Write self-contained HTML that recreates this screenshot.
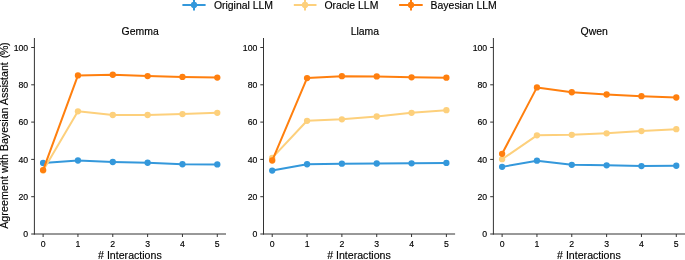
<!DOCTYPE html>
<html><head><meta charset="utf-8"><title>Agreement with Bayesian Assistant</title>
<style>
html,body{margin:0;padding:0;background:#fff;}
body{width:685px;height:260px;overflow:hidden;}
svg{display:block;will-change:transform;}
text{font-family:"Liberation Sans",sans-serif;fill:#000;stroke:#000;stroke-width:0.15px;}
.t{font-size:8.7px;}
.l{font-size:10.45px;}
</style></head><body>
<svg width="685" height="260" viewBox="0 0 685 260">
<rect width="685" height="260" fill="#fff"/>
<g stroke="#3498db" stroke-width="2.0" fill="#3498db"><line x1="182.4" y1="5" x2="205.6" y2="5"/><line x1="194.0" y1="-1" x2="194.0" y2="10.4"/><circle cx="194.0" cy="5" r="3.15" stroke="none"/></g>
<text class="l" x="213.9" y="8.75">Original LLM</text>
<g stroke="#fdd07c" stroke-width="2.0" fill="#fdd07c"><line x1="293.8" y1="5" x2="316.5" y2="5"/><line x1="305.0" y1="-1" x2="305.0" y2="10.4"/><circle cx="305.0" cy="5" r="3.15" stroke="none"/></g>
<text class="l" x="324.4" y="8.75">Oracle LLM</text>
<g stroke="#ff7f0e" stroke-width="2.0" fill="#ff7f0e"><line x1="399.1" y1="5" x2="422.7" y2="5"/><line x1="411.0" y1="-1" x2="411.0" y2="10.4"/><circle cx="411.0" cy="5" r="3.15" stroke="none"/></g>
<text class="l" x="430.6" y="8.75">Bayesian LLM</text>
<text class="l" style="font-size:10.6px" transform="translate(7.9,228.85) rotate(-90)" x="0" y="0"><tspan style="letter-spacing:0.13px">Agreement</tspan> with Bayesian Assistant <tspan dx="1.2" style="letter-spacing:-0.4px">(%)</tspan></text>
<polyline points="43.11,163.00 77.95,160.52 112.78,162.01 147.62,162.76 182.45,164.25 217.29,164.44" fill="none" stroke="#3498db" stroke-width="2.0" stroke-linejoin="round" stroke-linecap="round"/>
<circle cx="43.11" cy="163.00" r="3.15" fill="#3498db"/>
<circle cx="77.95" cy="160.52" r="3.15" fill="#3498db"/>
<circle cx="112.78" cy="162.01" r="3.15" fill="#3498db"/>
<circle cx="147.62" cy="162.76" r="3.15" fill="#3498db"/>
<circle cx="182.45" cy="164.25" r="3.15" fill="#3498db"/>
<circle cx="217.29" cy="164.44" r="3.15" fill="#3498db"/>
<polyline points="43.11,170.40 77.95,111.28 112.78,115.01 147.62,115.01 182.45,114.08 217.29,112.78" fill="none" stroke="#fdd07c" stroke-width="2.0" stroke-linejoin="round" stroke-linecap="round"/>
<circle cx="43.11" cy="170.40" r="3.15" fill="#fdd07c"/>
<circle cx="77.95" cy="111.28" r="3.15" fill="#fdd07c"/>
<circle cx="112.78" cy="115.01" r="3.15" fill="#fdd07c"/>
<circle cx="147.62" cy="115.01" r="3.15" fill="#fdd07c"/>
<circle cx="182.45" cy="114.08" r="3.15" fill="#fdd07c"/>
<circle cx="217.29" cy="112.78" r="3.15" fill="#fdd07c"/>
<polyline points="43.11,170.03 77.95,75.47 112.78,74.73 147.62,76.03 182.45,76.97 217.29,77.53" fill="none" stroke="#ff7f0e" stroke-width="2.0" stroke-linejoin="round" stroke-linecap="round"/>
<circle cx="43.11" cy="170.03" r="3.15" fill="#ff7f0e"/>
<circle cx="77.95" cy="75.47" r="3.15" fill="#ff7f0e"/>
<circle cx="112.78" cy="74.73" r="3.15" fill="#ff7f0e"/>
<circle cx="147.62" cy="76.03" r="3.15" fill="#ff7f0e"/>
<circle cx="182.45" cy="76.97" r="3.15" fill="#ff7f0e"/>
<circle cx="217.29" cy="77.53" r="3.15" fill="#ff7f0e"/>
<g stroke="#333333" stroke-width="1" fill="none">
<line x1="34.4" y1="38.0" x2="34.4" y2="234.5"/>
<line x1="33.9" y1="234.0" x2="226.0" y2="234.0"/>
<line x1="31.2" y1="234.00" x2="34.4" y2="234.00"/>
<line x1="31.2" y1="196.70" x2="34.4" y2="196.70"/>
<line x1="31.2" y1="159.40" x2="34.4" y2="159.40"/>
<line x1="31.2" y1="122.10" x2="34.4" y2="122.10"/>
<line x1="31.2" y1="84.80" x2="34.4" y2="84.80"/>
<line x1="31.2" y1="47.50" x2="34.4" y2="47.50"/>
<line x1="43.11" y1="234.0" x2="43.11" y2="237.0"/>
<line x1="77.95" y1="234.0" x2="77.95" y2="237.0"/>
<line x1="112.78" y1="234.0" x2="112.78" y2="237.0"/>
<line x1="147.62" y1="234.0" x2="147.62" y2="237.0"/>
<line x1="182.45" y1="234.0" x2="182.45" y2="237.0"/>
<line x1="217.29" y1="234.0" x2="217.29" y2="237.0"/>
</g>
<text class="t" text-anchor="end" x="28.20" y="237.15">0</text>
<text class="t" text-anchor="end" x="28.20" y="199.85">20</text>
<text class="t" text-anchor="end" x="28.20" y="162.55">40</text>
<text class="t" text-anchor="end" x="28.20" y="125.25">60</text>
<text class="t" text-anchor="end" x="28.20" y="87.95">80</text>
<text class="t" text-anchor="end" x="28.20" y="50.65">100</text>
<text class="t" text-anchor="middle" x="43.11" y="246.8">0</text>
<text class="t" text-anchor="middle" x="77.95" y="246.8">1</text>
<text class="t" text-anchor="middle" x="112.78" y="246.8">2</text>
<text class="t" text-anchor="middle" x="147.62" y="246.8">3</text>
<text class="t" text-anchor="middle" x="182.45" y="246.8">4</text>
<text class="t" text-anchor="middle" x="217.29" y="246.8">5</text>
<text class="l" x="121.60" y="35">Gemma</text>
<text class="l" style="font-size:10.6px" text-anchor="middle" x="129.90" y="259.4"># Interactions</text>
<polyline points="272.21,170.59 307.05,164.25 341.88,163.69 376.72,163.50 411.55,163.32 446.39,162.94" fill="none" stroke="#3498db" stroke-width="2.0" stroke-linejoin="round" stroke-linecap="round"/>
<circle cx="272.21" cy="170.59" r="3.15" fill="#3498db"/>
<circle cx="307.05" cy="164.25" r="3.15" fill="#3498db"/>
<circle cx="341.88" cy="163.69" r="3.15" fill="#3498db"/>
<circle cx="376.72" cy="163.50" r="3.15" fill="#3498db"/>
<circle cx="411.55" cy="163.32" r="3.15" fill="#3498db"/>
<circle cx="446.39" cy="162.94" r="3.15" fill="#3498db"/>
<polyline points="272.21,157.91 307.05,120.79 341.88,119.30 376.72,116.50 411.55,112.78 446.39,110.16" fill="none" stroke="#fdd07c" stroke-width="2.0" stroke-linejoin="round" stroke-linecap="round"/>
<circle cx="272.21" cy="157.91" r="3.15" fill="#fdd07c"/>
<circle cx="307.05" cy="120.79" r="3.15" fill="#fdd07c"/>
<circle cx="341.88" cy="119.30" r="3.15" fill="#fdd07c"/>
<circle cx="376.72" cy="116.50" r="3.15" fill="#fdd07c"/>
<circle cx="411.55" cy="112.78" r="3.15" fill="#fdd07c"/>
<circle cx="446.39" cy="110.16" r="3.15" fill="#fdd07c"/>
<polyline points="272.21,160.52 307.05,78.09 341.88,76.22 376.72,76.41 411.55,77.34 446.39,77.71" fill="none" stroke="#ff7f0e" stroke-width="2.0" stroke-linejoin="round" stroke-linecap="round"/>
<circle cx="272.21" cy="160.52" r="3.15" fill="#ff7f0e"/>
<circle cx="307.05" cy="78.09" r="3.15" fill="#ff7f0e"/>
<circle cx="341.88" cy="76.22" r="3.15" fill="#ff7f0e"/>
<circle cx="376.72" cy="76.41" r="3.15" fill="#ff7f0e"/>
<circle cx="411.55" cy="77.34" r="3.15" fill="#ff7f0e"/>
<circle cx="446.39" cy="77.71" r="3.15" fill="#ff7f0e"/>
<g stroke="#333333" stroke-width="1" fill="none">
<line x1="263.5" y1="38.0" x2="263.5" y2="234.5"/>
<line x1="263.0" y1="234.0" x2="455.1" y2="234.0"/>
<line x1="260.3" y1="234.00" x2="263.5" y2="234.00"/>
<line x1="260.3" y1="196.70" x2="263.5" y2="196.70"/>
<line x1="260.3" y1="159.40" x2="263.5" y2="159.40"/>
<line x1="260.3" y1="122.10" x2="263.5" y2="122.10"/>
<line x1="260.3" y1="84.80" x2="263.5" y2="84.80"/>
<line x1="260.3" y1="47.50" x2="263.5" y2="47.50"/>
<line x1="272.21" y1="234.0" x2="272.21" y2="237.0"/>
<line x1="307.05" y1="234.0" x2="307.05" y2="237.0"/>
<line x1="341.88" y1="234.0" x2="341.88" y2="237.0"/>
<line x1="376.72" y1="234.0" x2="376.72" y2="237.0"/>
<line x1="411.55" y1="234.0" x2="411.55" y2="237.0"/>
<line x1="446.39" y1="234.0" x2="446.39" y2="237.0"/>
</g>
<text class="t" text-anchor="end" x="257.30" y="237.15">0</text>
<text class="t" text-anchor="end" x="257.30" y="199.85">20</text>
<text class="t" text-anchor="end" x="257.30" y="162.55">40</text>
<text class="t" text-anchor="end" x="257.30" y="125.25">60</text>
<text class="t" text-anchor="end" x="257.30" y="87.95">80</text>
<text class="t" text-anchor="end" x="257.30" y="50.65">100</text>
<text class="t" text-anchor="middle" x="272.21" y="246.8">0</text>
<text class="t" text-anchor="middle" x="307.05" y="246.8">1</text>
<text class="t" text-anchor="middle" x="341.88" y="246.8">2</text>
<text class="t" text-anchor="middle" x="376.72" y="246.8">3</text>
<text class="t" text-anchor="middle" x="411.55" y="246.8">4</text>
<text class="t" text-anchor="middle" x="446.39" y="246.8">5</text>
<text class="l" x="350.70" y="35">Llama</text>
<text class="l" style="font-size:10.6px" text-anchor="middle" x="359.00" y="259.4"># Interactions</text>
<polyline points="502.11,166.86 536.95,160.71 571.78,164.81 606.62,165.37 641.45,166.11 676.29,165.74" fill="none" stroke="#3498db" stroke-width="2.0" stroke-linejoin="round" stroke-linecap="round"/>
<circle cx="502.11" cy="166.86" r="3.15" fill="#3498db"/>
<circle cx="536.95" cy="160.71" r="3.15" fill="#3498db"/>
<circle cx="571.78" cy="164.81" r="3.15" fill="#3498db"/>
<circle cx="606.62" cy="165.37" r="3.15" fill="#3498db"/>
<circle cx="641.45" cy="166.11" r="3.15" fill="#3498db"/>
<circle cx="676.29" cy="165.74" r="3.15" fill="#3498db"/>
<polyline points="502.11,159.21 536.95,135.34 571.78,134.78 606.62,133.29 641.45,131.05 676.29,129.19" fill="none" stroke="#fdd07c" stroke-width="2.0" stroke-linejoin="round" stroke-linecap="round"/>
<circle cx="502.11" cy="159.21" r="3.15" fill="#fdd07c"/>
<circle cx="536.95" cy="135.34" r="3.15" fill="#fdd07c"/>
<circle cx="571.78" cy="134.78" r="3.15" fill="#fdd07c"/>
<circle cx="606.62" cy="133.29" r="3.15" fill="#fdd07c"/>
<circle cx="641.45" cy="131.05" r="3.15" fill="#fdd07c"/>
<circle cx="676.29" cy="129.19" r="3.15" fill="#fdd07c"/>
<polyline points="502.11,153.81 536.95,87.41 571.78,92.26 606.62,94.50 641.45,96.18 676.29,97.48" fill="none" stroke="#ff7f0e" stroke-width="2.0" stroke-linejoin="round" stroke-linecap="round"/>
<circle cx="502.11" cy="153.81" r="3.15" fill="#ff7f0e"/>
<circle cx="536.95" cy="87.41" r="3.15" fill="#ff7f0e"/>
<circle cx="571.78" cy="92.26" r="3.15" fill="#ff7f0e"/>
<circle cx="606.62" cy="94.50" r="3.15" fill="#ff7f0e"/>
<circle cx="641.45" cy="96.18" r="3.15" fill="#ff7f0e"/>
<circle cx="676.29" cy="97.48" r="3.15" fill="#ff7f0e"/>
<g stroke="#333333" stroke-width="1" fill="none">
<line x1="493.4" y1="38.0" x2="493.4" y2="234.5"/>
<line x1="492.9" y1="234.0" x2="685.0" y2="234.0"/>
<line x1="490.2" y1="234.00" x2="493.4" y2="234.00"/>
<line x1="490.2" y1="196.70" x2="493.4" y2="196.70"/>
<line x1="490.2" y1="159.40" x2="493.4" y2="159.40"/>
<line x1="490.2" y1="122.10" x2="493.4" y2="122.10"/>
<line x1="490.2" y1="84.80" x2="493.4" y2="84.80"/>
<line x1="490.2" y1="47.50" x2="493.4" y2="47.50"/>
<line x1="502.11" y1="234.0" x2="502.11" y2="237.0"/>
<line x1="536.95" y1="234.0" x2="536.95" y2="237.0"/>
<line x1="571.78" y1="234.0" x2="571.78" y2="237.0"/>
<line x1="606.62" y1="234.0" x2="606.62" y2="237.0"/>
<line x1="641.45" y1="234.0" x2="641.45" y2="237.0"/>
<line x1="676.29" y1="234.0" x2="676.29" y2="237.0"/>
</g>
<text class="t" text-anchor="end" x="487.20" y="237.15">0</text>
<text class="t" text-anchor="end" x="487.20" y="199.85">20</text>
<text class="t" text-anchor="end" x="487.20" y="162.55">40</text>
<text class="t" text-anchor="end" x="487.20" y="125.25">60</text>
<text class="t" text-anchor="end" x="487.20" y="87.95">80</text>
<text class="t" text-anchor="end" x="487.20" y="50.65">100</text>
<text class="t" text-anchor="middle" x="502.11" y="246.8">0</text>
<text class="t" text-anchor="middle" x="536.95" y="246.8">1</text>
<text class="t" text-anchor="middle" x="571.78" y="246.8">2</text>
<text class="t" text-anchor="middle" x="606.62" y="246.8">3</text>
<text class="t" text-anchor="middle" x="641.45" y="246.8">4</text>
<text class="t" text-anchor="middle" x="676.29" y="246.8">5</text>
<text class="l" x="580.60" y="35">Qwen</text>
<text class="l" style="font-size:10.6px" text-anchor="middle" x="588.90" y="259.4"># Interactions</text>
</svg></body></html>
